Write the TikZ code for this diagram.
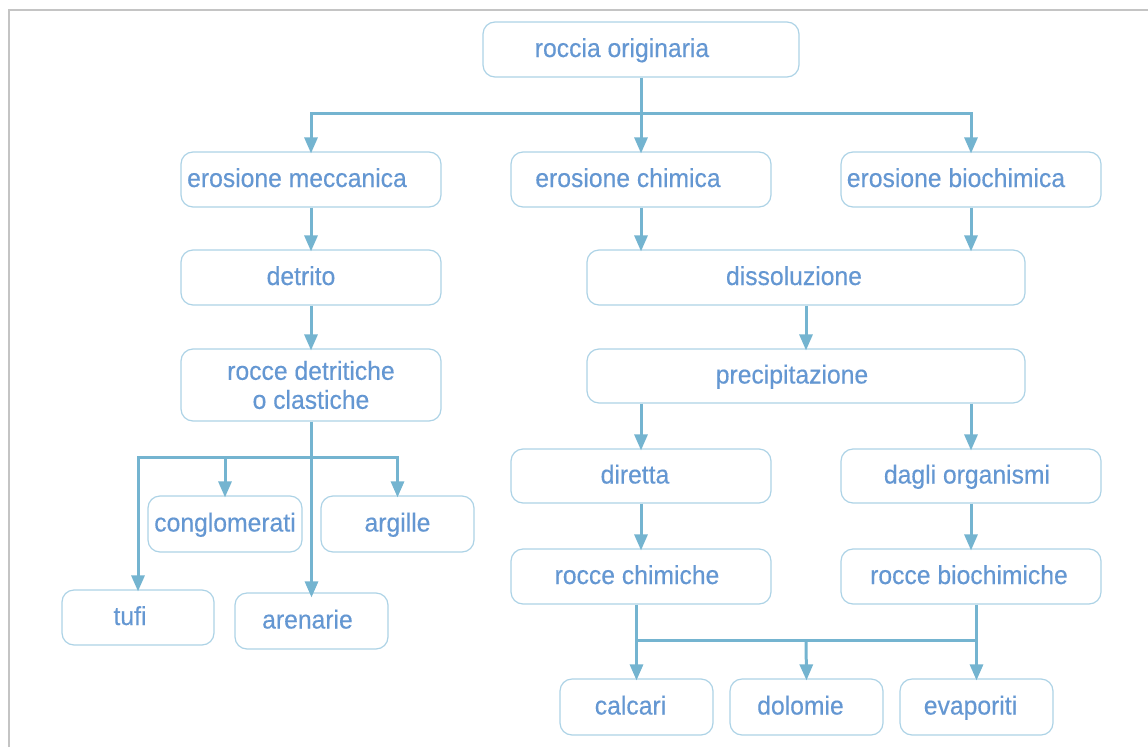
\documentclass[tikz,border=0pt]{standalone}
\usepackage{fontspec}
\setmainfont{Liberation Sans}
\newfontfamily\labfont{Liberation Sans}[FakeStretch=0.95, FakeBold=0.35]
\usetikzlibrary{arrows.meta}
\definecolor{boxc}{HTML}{ADD3E6}
\definecolor{txt}{HTML}{6497D2}
\definecolor{arr}{HTML}{74B4D0}
\definecolor{frame}{HTML}{C4C4C4}
\tikzset{
  boxbase/.style={draw=boxc, line width=1.2pt, rounded corners=12pt, fill=white, text=txt,
    font=\labfont\fontsize{26}{29}\selectfont, inner sep=0pt, align=center},
  box/.style={boxbase, text height=20pt, text depth=5pt},
  ln/.style={draw=arr, line width=3pt, line join=miter},
  arrow/.style={ln, -{Triangle[width=13pt,length=16pt]}},
  arrboth/.style={ln, {Triangle[width=13pt,length=16pt]}-{Triangle[width=13pt,length=16pt]}},
}
\begin{document}
\begin{tikzpicture}[x=1pt,y=-1pt]
\useasboundingbox (0,0) rectangle (1148,747);
\draw[frame, line width=2pt] (9,747) -- (9,10) -- (1148,10);

% boxes
\node[box, minimum width=316, minimum height=55] (roccia) at (641,49.5) {roccia originaria\hspace*{38pt}};
\node[box, minimum width=260, minimum height=55] (em) at (311,179.5) {erosione meccanica\hspace*{28pt}};
\node[box, minimum width=260, minimum height=55] (ec) at (641,179.5) {erosione chimica\hspace*{26pt}};
\node[box, minimum width=260, minimum height=55] (eb) at (971,179.5) {erosione biochimica\hspace*{30pt}};
\node[box, minimum width=260, minimum height=55] (detrito) at (311,277.5) {detrito\hspace*{20pt}};
\node[box, minimum width=438, minimum height=55] (diss) at (806,277.5) {dissoluzione\hspace*{24pt}};
\node[boxbase, minimum width=260, minimum height=72] (rdc) at (311,385) {rocce detritiche\\o clastiche};
\node[box, minimum width=438, minimum height=54] (prec) at (806,376) {precipitazione\hspace*{28pt}};
\node[box, minimum width=260, minimum height=54] (diretta) at (641,476) {diretta\hspace*{12pt}};
\node[box, minimum width=260, minimum height=54] (dagli) at (971,476) {dagli organismi\hspace*{8pt}};
\node[box, minimum width=260, minimum height=55] (rch) at (641,576.5) {rocce chimiche\hspace*{8pt}};
\node[box, minimum width=260, minimum height=55] (rbch) at (971,576.5) {rocce biochimiche\hspace*{4pt}};
\node[box, minimum width=154, minimum height=56] (congl) at (225,524) {conglomerati};
\node[box, minimum width=153, minimum height=56] (argille) at (397.5,524) {argille};
\node[box, minimum width=152, minimum height=55] (tufi) at (138,617.5) {tufi\hspace*{16pt}};
\node[box, minimum width=153, minimum height=56] (arenarie) at (311.5,621) {arenarie\hspace*{8pt}};
\node[box, minimum width=153, minimum height=56] (calcari) at (636.5,707) {calcari\hspace*{12pt}};
\node[box, minimum width=153, minimum height=56] (dolomie) at (806.5,707) {dolomie\hspace*{12pt}};
\node[box, minimum width=153, minimum height=56] (evap) at (976.5,707) {evaporiti\hspace*{12pt}};

% junction coordinates
\coordinate (j1) at (641,113);
\coordinate (j2) at (311,457);
\coordinate (j3) at (806,640);

% connectors
\draw[arrow] (roccia.south) -- ([yshift=-2pt]ec.north);
\draw[arrboth] ([yshift=-2pt]em.north) -- (em.north |- j1) -- (eb.north |- j1) -- ([yshift=-2pt]eb.north);
\draw[arrow] (em.south) -- ([yshift=-2pt]detrito.north);
\draw[arrow] (detrito.south) -- ([yshift=-2pt]rdc.north);
\draw[arrow] (ec.south) -- ([yshift=-2pt]ec.south |- diss.north);
\draw[arrow] (eb.south) -- ([yshift=-2pt]eb.south |- diss.north);
\draw[arrow] (diss.south) -- ([yshift=-2pt]prec.north);
\draw[arrow] (prec.south -| diretta.north) -- ([yshift=-2pt]diretta.north);
\draw[arrow] (prec.south -| dagli.north) -- ([yshift=-2pt]dagli.north);
\draw[arrow] (diretta.south) -- ([yshift=-2pt]rch.north);
\draw[arrow] (dagli.south) -- ([yshift=-2pt]rbch.north);

% lower right junction
\draw[ln] (calcari.north |- rch.south) -- (calcari.north |- j3);
\draw[ln] (evap.north |- rbch.south) -- (evap.north |- j3);
\draw[arrboth] ([yshift=-2pt]calcari.north) -- (calcari.north |- j3) -- (evap.north |- j3) -- ([yshift=-2pt]evap.north);
\draw[arrow] (j3) -- ([yshift=-2pt]dolomie.north);

% lower left junction
\draw[arrow] (rdc.south -| arenarie.north) -- ([yshift=-5pt]arenarie.north);
\draw[arrboth] ([yshift=-2pt]tufi.north) -- (tufi.north |- j2) -- (argille.north |- j2) -- ([yshift=-2pt]argille.north);
\draw[arrow] (congl.north |- j2) -- ([yshift=-2pt]congl.north);
\end{tikzpicture}
\end{document}
